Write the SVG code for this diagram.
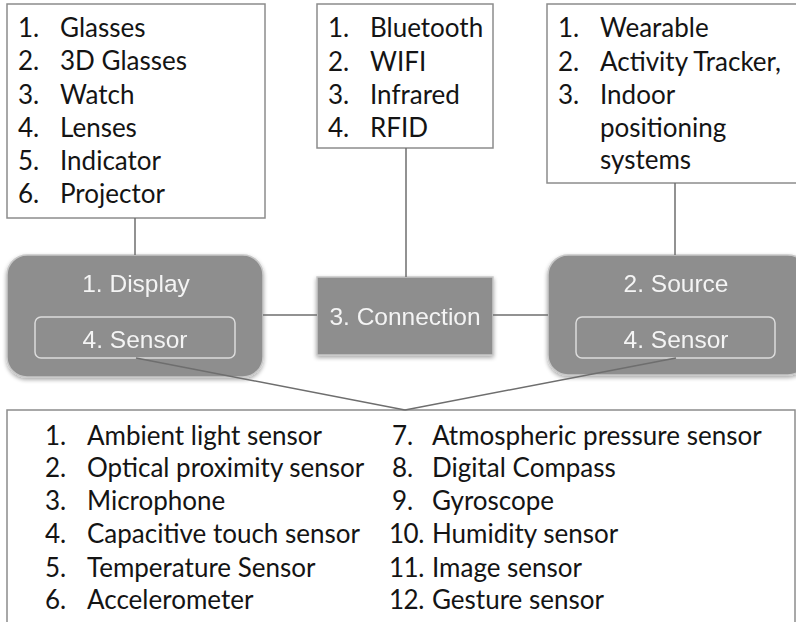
<svg xmlns="http://www.w3.org/2000/svg" width="796" height="622" viewBox="0 0 796 622">
  <defs>
    <filter id="soft" x="-10%" y="-10%" width="120%" height="130%">
      <feGaussianBlur in="SourceAlpha" stdDeviation="2"/>
      <feOffset dx="0" dy="2" result="b"/>
      <feComponentTransfer><feFuncA type="linear" slope="0.35"/></feComponentTransfer>
      <feMerge><feMergeNode/><feMergeNode in="SourceGraphic"/></feMerge>
    </filter>
  </defs>
  <style>
    .list { fill: #ffffff; stroke: #8c8c8c; stroke-width: 1.5; }
    .item { font-family: Lato, "Open Sans", sans-serif; font-size: 26px; fill: #141414; }
    .num2 { letter-spacing: -0.5px; }
    .block { fill: #8e8e8e; stroke: #c8c8c8; stroke-width: 1.5; }
    .inner { fill: #8e8e8e; stroke: #dcdcdc; stroke-width: 1.5; }
    .label { font-family: "Liberation Sans", Arial, sans-serif; font-size: 24.5px; fill: #f4f4f4; text-anchor: middle; }
    .wire { stroke: #6e6e6e; stroke-width: 1.5; fill: none; }
  </style>
  <rect width="796" height="622" fill="#ffffff"/>

  <!-- output devices list -->
  <g id="display-list">
    <rect class="list" x="7" y="4" width="258" height="214"/>
    <text class="item" x="18" y="37">1.</text><text class="item" x="60" y="37">Glasses</text>
    <text class="item" x="18" y="70">2.</text><text class="item" x="60" y="70">3D Glasses</text>
    <text class="item" x="18" y="104">3.</text><text class="item" x="60" y="104">Watch</text>
    <text class="item" x="18" y="137">4.</text><text class="item" x="60" y="137">Lenses</text>
    <text class="item" x="18" y="170">5.</text><text class="item" x="60" y="170">Indicator</text>
    <text class="item" x="18" y="203">6.</text><text class="item" x="60" y="203">Projector</text>
  </g>

  <!-- connection types list -->
  <g id="connection-list">
    <rect class="list" x="317" y="4" width="176" height="144"/>
    <text class="item" x="328" y="37">1.</text><text class="item" x="370" y="37">Bluetooth</text>
    <text class="item" x="328" y="71">2.</text><text class="item" x="370" y="71">WIFI</text>
    <text class="item" x="328" y="104">3.</text><text class="item" x="370" y="104">Infrared</text>
    <text class="item" x="328" y="137">4.</text><text class="item" x="370" y="137">RFID</text>
  </g>

  <!-- source list -->
  <g id="source-list">
    <rect class="list" x="547" y="4" width="252" height="179"/>
    <text class="item" x="558" y="37">1.</text><text class="item" x="600" y="37">Wearable</text>
    <text class="item" x="558" y="71">2.</text><text class="item" x="600" y="71">Activity Tracker,</text>
    <text class="item" x="558" y="104">3.</text><text class="item" x="600" y="104">Indoor</text>
    <text class="item" x="600" y="137">positioning</text>
    <text class="item" x="600" y="169">systems</text>
  </g>

  <!-- display block -->
  <g id="display" filter="url(#soft)">
    <rect class="block" x="7" y="255" width="256" height="122" rx="20"/>
    <text class="label" x="136" y="292">1. Display</text>
    <rect class="inner" x="35" y="317" width="200" height="41" rx="6"/>
    <text class="label" x="135" y="348">4. Sensor</text>
  </g>

  <!-- connection block -->
  <g id="connection" filter="url(#soft)">
    <rect class="block" x="317" y="277" width="176" height="78"/>
    <text class="label" x="405" y="325">3. Connection</text>
  </g>

  <!-- source block -->
  <g id="source" filter="url(#soft)">
    <rect class="block" x="548" y="255" width="260" height="120" rx="20"/>
    <text class="label" x="676" y="292">2. Source</text>
    <rect class="inner" x="576" y="317" width="199" height="41" rx="6"/>
    <text class="label" x="676" y="348">4. Sensor</text>
  </g>

  <!-- sensor list -->
  <g id="sensor-list">
    <rect class="list" x="7" y="410" width="788" height="230"/>
    <text class="item" x="45" y="445">1.</text><text class="item" x="87" y="445">Ambient light sensor</text>
    <text class="item" x="45" y="477">2.</text><text class="item" x="87" y="477">Optical proximity sensor</text>
    <text class="item" x="45" y="510">3.</text><text class="item" x="87" y="510">Microphone</text>
    <text class="item" x="45" y="543">4.</text><text class="item" x="87" y="543">Capacitive touch sensor</text>
    <text class="item" x="45" y="577">5.</text><text class="item" x="87" y="577">Temperature Sensor</text>
    <text class="item" x="45" y="609">6.</text><text class="item" x="87" y="609">Accelerometer</text>
    <text class="item" x="392" y="445">7.</text><text class="item" x="432" y="445">Atmospheric pressure sensor</text>
    <text class="item" x="392" y="477">8.</text><text class="item" x="432" y="477">Digital Compass</text>
    <text class="item" x="392" y="510">9.</text><text class="item" x="432" y="510">Gyroscope</text>
    <text class="item num2" x="389" y="543">10.</text><text class="item" x="432" y="543">Humidity sensor</text>
    <text class="item num2" x="389" y="577">11.</text><text class="item" x="432" y="577">Image sensor</text>
    <text class="item num2" x="389" y="609">12.</text><text class="item" x="432" y="609">Gesture sensor</text>
  </g>

  <!-- connectors, drawn last so the sensor links show across the blocks -->
  <g id="connectors">
    <line class="wire" x1="135" y1="218" x2="135" y2="255"/>
    <line class="wire" x1="406" y1="148" x2="406" y2="277"/>
    <line class="wire" x1="675" y1="183" x2="675" y2="255"/>
    <line class="wire" x1="263" y1="315" x2="317" y2="315"/>
    <line class="wire" x1="493" y1="315" x2="548" y2="315"/>
    <line class="wire" x1="136" y1="358" x2="405" y2="410"/>
    <line class="wire" x1="676" y1="358" x2="405" y2="410"/>
  </g>
</svg>
